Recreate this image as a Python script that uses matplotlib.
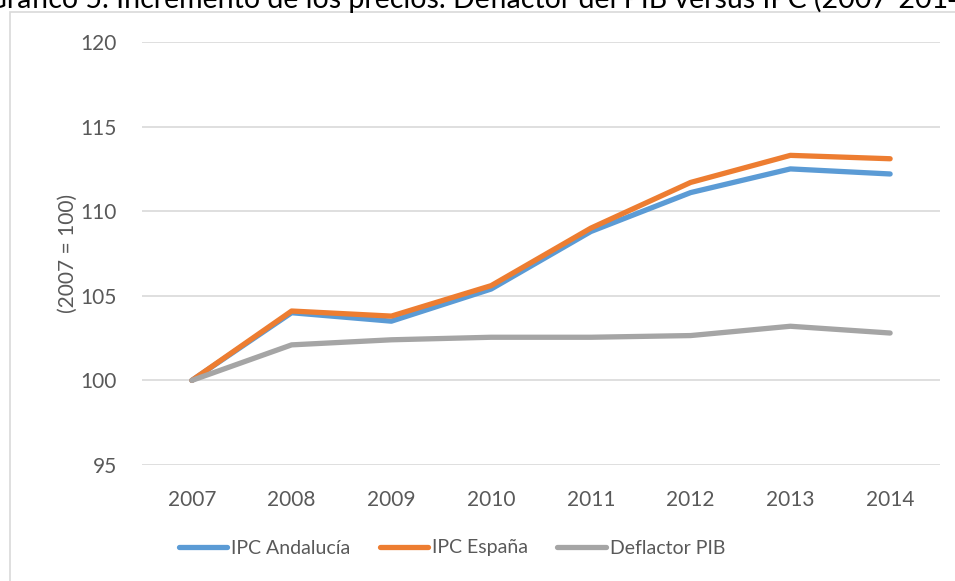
import matplotlib
matplotlib.use("Agg")
import matplotlib.pyplot as plt
from matplotlib.patches import Rectangle

plt.rcParams['font.family'] = ['Lato', 'DejaVu Sans']

years = [2007, 2008, 2009, 2010, 2011, 2012, 2013, 2014]
ipc_andalucia = [100, 104.0, 103.5, 105.4, 108.8, 111.1, 112.5, 112.2]
ipc_espana = [100, 104.1, 103.8, 105.6, 109.0, 111.7, 113.3, 113.1]
deflactor_pib = [100, 102.1, 102.4, 102.55, 102.55, 102.65, 103.2, 102.8]

fig = plt.figure(figsize=(9.55, 5.81), dpi=100)
ax = fig.add_axes([142 / 955, 1 - 465 / 581, (940 - 142) / 955, (465 - 42) / 581])

x = list(range(len(years)))
ax.plot(x, ipc_andalucia, color="#5B9BD5", lw=3.8, solid_capstyle="round", label="IPC Andalucía")
ax.plot(x, ipc_espana, color="#ED7D31", lw=3.8, solid_capstyle="round", label="IPC España")
ax.plot(x, deflactor_pib, color="#A5A5A5", lw=3.8, solid_capstyle="round", label="Deflactor PIB")

ax.set_xlim(-0.5, len(years) - 0.5)
ax.set_ylim(95, 120)
ax.set_yticks([95, 100, 105, 110, 115, 120])
ax.set_xticks(x)
ax.set_xticklabels([str(y) for y in years])
ax.grid(axis="y", color="#D9D9D9", lw=1.2)
ax.set_axisbelow(True)
for s in ax.spines.values():
    s.set_visible(False)
ax.tick_params(length=0, labelsize=15, labelcolor="#595959")
ax.tick_params(axis="x", pad=18)
ax.tick_params(axis="y", pad=18)
ax.set_ylabel("(2007 = 100)", fontsize=15, color="#595959", labelpad=2)

leg = fig.legend(loc="center", bbox_to_anchor=(452 / 955, 1 - 548 / 581), ncol=3,
                 frameon=False, fontsize=14, handlelength=2.5, handletextpad=0.2,
                 columnspacing=1.5, labelcolor="#595959")

# chart border, partly off the canvas
fig.patches.append(Rectangle((10 / 955, -0.1), 1.1, 1.1 - 12 / 581, transform=fig.transFigure,
                             fill=False, edgecolor="#D9D9D9", lw=1.2))

fig.text(-14 / 955, 1 - 8 / 581, "Gráfico 5. Incremento de los precios. Deflactor del PIB versus IPC (2007-2014)",
         fontsize=20.5, color="#000000", va="baseline", ha="left")

fig.savefig("out.png", dpi=100)
